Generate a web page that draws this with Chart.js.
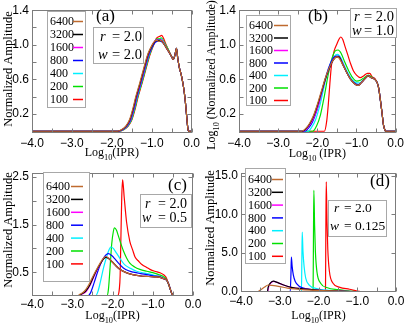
<!DOCTYPE html>
<html>
<head>
<meta charset="utf-8">
<script src="https://cdn.jsdelivr.net/npm/chart.js@4.4.1/dist/chart.umd.min.js"></script>
<style>
  body { margin: 0; background: #fff; }
  canvas { position: absolute; }
</style>
</head>
<body>
<canvas id="panelA" width="203" height="163" style="left:0;top:0"></canvas>
<canvas id="panelB" width="204" height="163" style="left:203px;top:0"></canvas>
<canvas id="panelC" width="203" height="163" style="left:0;top:163px"></canvas>
<canvas id="panelD" width="204" height="163" style="left:203px;top:163px"></canvas>
<script>
// ---- data ----
const sizes = ["6400", "3200", "1600", "800", "400", "200", "100"];
const panelTags = ["(a)", "(b)", "(c)", "(d)"];
const rValues = ["2.0", "2.0", "2.0", "2.0"];
const wValues = ["2.0", "1.0", "0.5", "0.125"];

const xTickLabels = [-4, -3, -2, -1, 0];
const xTickMarks = [-4, -3.5, -3, -2.5, -2, -1.5, -1, -0.5, 0];
const yTicksAB = [0.2, 0.6, 1.0, 1.4];
const yMarksAB = [0.2, 0.4, 0.6, 0.8, 1.0, 1.2, 1.4];
const yTicksC = [0.5, 1.5, 2.5];
const yMarksC = [0.5, 1.0, 1.5, 2.0, 2.5];
const yTicksD = [0, 5, 10, 15];
const yMarksD = [5, 10, 15];

// panel (a)  r = 2.0, w = 2.0
const a6400 = [[-4,0],[-1.86,0],[-1.75,0.02],[-1.65,0.06],[-1.56,0.13],[-1.48,0.25],[-1.4,0.4],[-1.3,0.56],[-1.2,0.73],[-1.1,0.89],[-1.0,0.99],[-0.93,1.04],[-0.87,1.05],[-0.82,1.04],[-0.77,1.05],[-0.71,1.02],[-0.64,0.97],[-0.56,0.91],[-0.5,0.86],[-0.46,0.83],[-0.42,0.88],[-0.38,0.96],[-0.35,0.85],[-0.31,0.74],[-0.25,0.63],[-0.2,0.5],[-0.16,0.35],[-0.13,0.2],[-0.1,0.05],[-0.08,0],[0,0]];
const a3200 = [[-4,0],[-1.85,0],[-1.74,0.02],[-1.64,0.06],[-1.55,0.13],[-1.47,0.25],[-1.39,0.4],[-1.29,0.56],[-1.19,0.73],[-1.09,0.89],[-0.99,0.99],[-0.92,1.04],[-0.87,1.05],[-0.82,1.05],[-0.77,1.05],[-0.71,1.02],[-0.64,0.97],[-0.56,0.91],[-0.5,0.86],[-0.46,0.83],[-0.42,0.88],[-0.38,0.96],[-0.35,0.85],[-0.31,0.74],[-0.25,0.63],[-0.2,0.5],[-0.16,0.35],[-0.13,0.2],[-0.1,0.05],[-0.08,0],[0,0]];
const a1600 = [[-4,0],[-1.84,0],[-1.73,0.02],[-1.63,0.06],[-1.54,0.13],[-1.46,0.25],[-1.38,0.4],[-1.28,0.56],[-1.18,0.73],[-1.08,0.89],[-0.98,1.0],[-0.91,1.05],[-0.86,1.06],[-0.81,1.05],[-0.77,1.06],[-0.71,1.03],[-0.64,0.97],[-0.56,0.91],[-0.5,0.86],[-0.46,0.83],[-0.42,0.88],[-0.38,0.96],[-0.35,0.85],[-0.31,0.74],[-0.25,0.63],[-0.2,0.5],[-0.16,0.35],[-0.13,0.2],[-0.1,0.05],[-0.08,0],[0,0]];
const a800 = [[-4,0],[-1.83,0],[-1.72,0.02],[-1.62,0.06],[-1.53,0.13],[-1.45,0.25],[-1.37,0.4],[-1.27,0.56],[-1.17,0.73],[-1.07,0.89],[-0.97,0.99],[-0.91,1.03],[-0.86,1.04],[-0.81,1.04],[-0.77,1.04],[-0.71,1.02],[-0.64,0.97],[-0.56,0.91],[-0.5,0.86],[-0.46,0.83],[-0.42,0.88],[-0.38,0.96],[-0.35,0.85],[-0.31,0.74],[-0.25,0.63],[-0.2,0.5],[-0.16,0.35],[-0.13,0.2],[-0.1,0.05],[-0.08,0],[0,0]];
const a400 = [[-4,0],[-1.82,0],[-1.71,0.02],[-1.61,0.06],[-1.52,0.13],[-1.44,0.25],[-1.36,0.4],[-1.26,0.56],[-1.16,0.73],[-1.06,0.89],[-0.96,1.0],[-0.9,1.05],[-0.85,1.06],[-0.8,1.06],[-0.76,1.07],[-0.7,1.03],[-0.64,0.98],[-0.56,0.91],[-0.5,0.86],[-0.46,0.83],[-0.42,0.88],[-0.38,0.96],[-0.35,0.85],[-0.31,0.74],[-0.25,0.63],[-0.2,0.5],[-0.16,0.35],[-0.13,0.2],[-0.1,0.05],[-0.08,0],[0,0]];
const a200 = [[-4,0],[-1.81,0],[-1.7,0.02],[-1.6,0.06],[-1.51,0.13],[-1.43,0.25],[-1.35,0.4],[-1.25,0.56],[-1.15,0.73],[-1.05,0.89],[-0.96,1.0],[-0.9,1.06],[-0.85,1.07],[-0.8,1.07],[-0.76,1.08],[-0.7,1.04],[-0.64,0.99],[-0.56,0.92],[-0.5,0.86],[-0.46,0.84],[-0.42,0.88],[-0.38,0.96],[-0.35,0.85],[-0.31,0.74],[-0.25,0.63],[-0.2,0.5],[-0.16,0.35],[-0.13,0.2],[-0.1,0.05],[-0.08,0],[0,0]];
const a100 = [[-4,0],[-1.8,0],[-1.69,0.02],[-1.59,0.06],[-1.5,0.13],[-1.42,0.25],[-1.34,0.4],[-1.24,0.56],[-1.14,0.73],[-1.04,0.89],[-0.95,1.0],[-0.89,1.07],[-0.84,1.09],[-0.79,1.1],[-0.75,1.11],[-0.7,1.07],[-0.64,1.0],[-0.56,0.92],[-0.5,0.86],[-0.46,0.84],[-0.42,0.88],[-0.38,0.96],[-0.35,0.85],[-0.31,0.74],[-0.25,0.63],[-0.2,0.5],[-0.16,0.35],[-0.13,0.2],[-0.1,0.05],[-0.08,0],[0,0]];

// panel (b)  r = 2.0, w = 1.0
const b6400 = [[-4,0],[-2.4,0],[-2.3,0.03],[-2.2,0.09],[-2.1,0.18],[-2.0,0.31],[-1.9,0.46],[-1.8,0.61],[-1.7,0.73],[-1.6,0.82],[-1.5,0.86],[-1.45,0.85],[-1.35,0.77],[-1.25,0.68],[-1.15,0.6],[-1.05,0.55],[-0.96,0.53],[-0.88,0.56],[-0.8,0.6],[-0.7,0.64],[-0.62,0.62],[-0.53,0.6],[-0.47,0.56],[-0.43,0.49],[-0.39,0.36],[-0.35,0.22],[-0.31,0.07],[-0.27,0.01],[-0.24,0],[0,0]];
const b3200 = [[-4,0],[-2.38,0],[-2.29,0.03],[-2.19,0.09],[-2.09,0.18],[-1.99,0.31],[-1.89,0.46],[-1.79,0.61],[-1.69,0.73],[-1.6,0.82],[-1.5,0.86],[-1.45,0.86],[-1.35,0.77],[-1.25,0.68],[-1.15,0.6],[-1.05,0.55],[-0.96,0.53],[-0.88,0.56],[-0.8,0.6],[-0.7,0.64],[-0.62,0.62],[-0.53,0.6],[-0.47,0.56],[-0.43,0.49],[-0.39,0.36],[-0.35,0.22],[-0.31,0.07],[-0.27,0.01],[-0.24,0],[0,0]];
const b1600 = [[-4,0],[-2.36,0],[-2.27,0.03],[-2.17,0.09],[-2.07,0.18],[-1.97,0.31],[-1.88,0.46],[-1.78,0.62],[-1.68,0.74],[-1.59,0.83],[-1.5,0.86],[-1.45,0.86],[-1.35,0.78],[-1.25,0.68],[-1.15,0.6],[-1.05,0.55],[-0.96,0.53],[-0.88,0.56],[-0.8,0.6],[-0.7,0.64],[-0.62,0.62],[-0.53,0.6],[-0.47,0.56],[-0.43,0.49],[-0.39,0.36],[-0.35,0.22],[-0.31,0.07],[-0.27,0.01],[-0.24,0],[0,0]];
const b800 = [[-4,0],[-2.32,0],[-2.22,0.04],[-2.12,0.11],[-2.02,0.23],[-1.92,0.39],[-1.82,0.57],[-1.72,0.72],[-1.62,0.83],[-1.52,0.87],[-1.46,0.87],[-1.36,0.79],[-1.26,0.69],[-1.16,0.61],[-1.06,0.56],[-0.96,0.54],[-0.88,0.56],[-0.8,0.6],[-0.7,0.64],[-0.62,0.62],[-0.53,0.6],[-0.47,0.56],[-0.43,0.49],[-0.39,0.36],[-0.35,0.22],[-0.31,0.07],[-0.27,0.01],[-0.24,0],[0,0]];
const b400 = [[-4,0],[-2.24,0],[-2.14,0.05],[-2.04,0.14],[-1.94,0.29],[-1.84,0.49],[-1.74,0.68],[-1.64,0.81],[-1.54,0.88],[-1.48,0.89],[-1.4,0.85],[-1.3,0.75],[-1.2,0.66],[-1.1,0.59],[-1.0,0.56],[-0.92,0.56],[-0.84,0.59],[-0.76,0.62],[-0.7,0.64],[-0.62,0.62],[-0.53,0.6],[-0.47,0.56],[-0.43,0.49],[-0.39,0.36],[-0.35,0.22],[-0.31,0.07],[-0.27,0.01],[-0.24,0],[0,0]];
const b200 = [[-4,0],[-2.12,0],[-2.02,0.06],[-1.92,0.19],[-1.82,0.41],[-1.72,0.66],[-1.62,0.85],[-1.54,0.93],[-1.47,0.94],[-1.39,0.9],[-1.3,0.8],[-1.2,0.7],[-1.1,0.62],[-1.0,0.58],[-0.9,0.59],[-0.8,0.62],[-0.7,0.65],[-0.62,0.63],[-0.53,0.6],[-0.47,0.56],[-0.43,0.49],[-0.39,0.36],[-0.35,0.22],[-0.31,0.07],[-0.27,0.01],[-0.24,0],[0,0]];
const b100 = [[-4,0],[-1.82,0],[-1.76,0.12],[-1.72,0.31],[-1.68,0.55],[-1.64,0.76],[-1.57,0.93],[-1.5,1.01],[-1.44,1.07],[-1.4,1.09],[-1.35,1.06],[-1.3,0.99],[-1.22,0.88],[-1.15,0.78],[-1.08,0.7],[-1.0,0.65],[-0.9,0.62],[-0.82,0.64],[-0.72,0.67],[-0.66,0.67],[-0.6,0.63],[-0.53,0.61],[-0.47,0.56],[-0.43,0.49],[-0.39,0.36],[-0.35,0.22],[-0.31,0.07],[-0.27,0.01],[-0.24,0],[0,0]];

// panel (c)  r = 2.0, w = 0.5
const c6400 = [[-4,0],[-2.9,0],[-2.8,0.04],[-2.7,0.1],[-2.6,0.22],[-2.5,0.39],[-2.4,0.55],[-2.3,0.7],[-2.22,0.8],[-2.17,0.83],[-2.1,0.8],[-2.02,0.73],[-1.92,0.64],[-1.82,0.56],[-1.66,0.49],[-1.5,0.45],[-1.3,0.42],[-1.1,0.41],[-0.9,0.4],[-0.75,0.37],[-0.65,0.33],[-0.6,0.24],[-0.56,0.13],[-0.52,0.04],[-0.48,0],[0,0]];
const c3200 = [[-4,0],[-2.86,0],[-2.77,0.04],[-2.67,0.1],[-2.57,0.22],[-2.48,0.39],[-2.39,0.55],[-2.3,0.68],[-2.22,0.78],[-2.16,0.81],[-2.09,0.78],[-2.01,0.72],[-1.92,0.64],[-1.82,0.56],[-1.66,0.49],[-1.5,0.45],[-1.3,0.42],[-1.1,0.41],[-0.9,0.4],[-0.75,0.37],[-0.65,0.33],[-0.6,0.24],[-0.56,0.13],[-0.52,0.04],[-0.48,0],[0,0]];
const c1600 = [[-4,0],[-2.84,0],[-2.75,0.04],[-2.65,0.1],[-2.56,0.22],[-2.47,0.39],[-2.38,0.55],[-2.29,0.69],[-2.22,0.79],[-2.16,0.82],[-2.09,0.79],[-2.01,0.72],[-1.92,0.64],[-1.82,0.56],[-1.66,0.49],[-1.5,0.45],[-1.3,0.42],[-1.1,0.41],[-0.9,0.4],[-0.75,0.37],[-0.65,0.33],[-0.6,0.24],[-0.56,0.13],[-0.52,0.04],[-0.48,0],[0,0]];
const c800 = [[-4,0],[-2.62,0],[-2.55,0.06],[-2.46,0.27],[-2.36,0.53],[-2.26,0.74],[-2.17,0.86],[-2.1,0.89],[-2.02,0.85],[-1.94,0.78],[-1.84,0.68],[-1.73,0.59],[-1.6,0.53],[-1.48,0.5],[-1.3,0.47],[-1.15,0.45],[-0.95,0.42],[-0.8,0.4],[-0.75,0.37],[-0.65,0.33],[-0.6,0.24],[-0.56,0.13],[-0.52,0.04],[-0.48,0],[0,0]];
const c400 = [[-4,0],[-2.42,0],[-2.36,0.1],[-2.3,0.3],[-2.22,0.6],[-2.14,0.84],[-2.08,0.98],[-2.04,1.03],[-1.98,1.0],[-1.9,0.9],[-1.8,0.77],[-1.7,0.66],[-1.55,0.58],[-1.4,0.52],[-1.2,0.48],[-1.07,0.46],[-0.9,0.42],[-0.78,0.39],[-0.7,0.36],[-0.65,0.33],[-0.6,0.24],[-0.56,0.13],[-0.52,0.04],[-0.48,0],[0,0]];
const c200 = [[-4,0],[-2.14,0],[-2.1,0.15],[-2.06,0.6],[-2.02,1.09],[-1.98,1.35],[-1.95,1.43],[-1.9,1.38],[-1.86,1.28],[-1.8,1.12],[-1.73,0.95],[-1.65,0.8],[-1.57,0.69],[-1.45,0.61],[-1.32,0.56],[-1.15,0.52],[-1.0,0.49],[-0.85,0.45],[-0.74,0.41],[-0.67,0.36],[-0.61,0.25],[-0.56,0.13],[-0.52,0.04],[-0.48,0],[0,0]];
const c100 = [[-4,0],[-1.88,0],[-1.83,0.15],[-1.81,0.43],[-1.79,1.28],[-1.77,2.08],[-1.75,2.44],[-1.73,2.3],[-1.71,2.08],[-1.68,1.8],[-1.65,1.55],[-1.57,1.15],[-1.5,0.97],[-1.44,0.82],[-1.35,0.73],[-1.27,0.66],[-1.15,0.6],[-1.07,0.56],[-0.95,0.52],[-0.82,0.49],[-0.72,0.44],[-0.66,0.38],[-0.61,0.25],[-0.56,0.13],[-0.52,0.04],[-0.48,0],[0,0]];

// panel (d)  r = 2.0, w = 0.125
const d6400 = [[-4,0],[-3.6,0],[-3.5,0.25],[-3.4,0.6],[-3.3,0.9],[-3.2,0.85],[-3.0,0.7],[-2.8,0.5],[-2.5,0.35],[-2.2,0.25],[-1.9,0.18],[-1.5,0.1],[-1.2,0.05],[-1.0,0.02],[-0.9,0],[0,0]];
const d3200 = [[-4,0],[-3.32,0],[-3.3,0.6],[-3.25,1.1],[-3.17,1.4],[-3.05,1.2],[-2.9,0.9],[-2.7,0.6],[-2.4,0.4],[-2.1,0.28],[-1.8,0.18],[-1.4,0.1],[-1.1,0.05],[-0.9,0],[0,0]];
const d1600 = [[-4,0],[-3.31,0],[-3.29,0.6],[-3.24,1.1],[-3.16,1.38],[-3.04,1.18],[-2.9,0.9],[-2.7,0.6],[-2.4,0.4],[-2.1,0.28],[-1.8,0.18],[-1.4,0.1],[-1.1,0.05],[-0.9,0],[0,0]];
const d800 = [[-4,0],[-2.73,0],[-2.71,2.5],[-2.7,4.5],[-2.68,3.3],[-2.65,2.2],[-2.6,1.35],[-2.5,0.75],[-2.3,0.4],[-1.9,0.18],[-1.3,0.05],[-1.0,0.01],[-0.9,0],[0,0]];
const d400 = [[-4,0],[-2.44,0],[-2.43,4],[-2.42,7.7],[-2.4,5.2],[-2.37,3.2],[-2.33,1.8],[-2.24,0.9],[-2.05,0.45],[-1.7,0.2],[-1.2,0.05],[-0.95,0.01],[-0.9,0],[0,0]];
const d200 = [[-4,0],[-2.14,0],[-2.13,7],[-2.12,13.1],[-2.1,8.5],[-2.08,5.2],[-2.04,2.6],[-1.94,1.1],[-1.77,0.55],[-1.5,0.3],[-1.1,0.08],[-0.92,0.01],[-0.9,0],[0,0]];
const d100 = [[-4,0],[-1.82,0],[-1.81,8],[-1.8,14.2],[-1.78,9],[-1.76,5.5],[-1.72,2.7],[-1.62,1.1],[-1.45,0.6],[-1.2,0.35],[-1.0,0.12],[-0.88,0.02],[-0.85,0],[0,0]];

// ---- styling ----
const colours = ["#bf6a2e", "#000000", "#ff00ff", "#0000ff", "#00f0ff", "#00e000", "#ff0000"];
const SERIF = "'Liberation Serif', 'DejaVu Serif', serif";
const SANS = "'Liberation Sans', Arial, sans-serif";
const FRAME = "#7c7c7c";

function fmt(v) {
    const s = Math.abs(v) < 1e-9 ? "0.0" : v.toFixed(1);
    return s.replace("-", "\u2212");
}

// text with subscript parts, centred on (x, y) baseline
function drawParts(ctx, parts, x, y, size) {
    let total = 0;
    parts.forEach(p => {
        ctx.font = (p.sub ? size * 0.7 : size) + "px " + SERIF;
        p.w = ctx.measureText(p.t).width;
        total += p.w;
    });
    let cx = x - total / 2;
    ctx.textAlign = "left";
    ctx.textBaseline = "alphabetic";
    parts.forEach(p => {
        ctx.font = (p.sub ? size * 0.7 : size) + "px " + SERIF;
        ctx.fillText(p.t, cx, p.sub ? y + size * 0.3 : y);
        cx += p.w;
    });
}

function makeDecor(cfg) {
    return {
        id: "panelDecor",
        afterDraw(chart) {
            const ctx = chart.ctx;
            const area = chart.chartArea;
            const xs = chart.scales.x;
            const ys = chart.scales.y;
            ctx.save();

            // frame + inward ticks
            ctx.strokeStyle = FRAME;
            ctx.lineWidth = 1;
            const L = Math.round(area.left) + 0.5, R = Math.round(area.right) - 0.5;
            const T = Math.round(area.top) + 0.5, B = Math.round(area.bottom) - 0.5;
            ctx.strokeRect(L, T, R - L, B - T);
            ctx.beginPath();
            xTickMarks.forEach(v => {
                const px = Math.round(xs.getPixelForValue(v)) + 0.5;
                ctx.moveTo(px, B); ctx.lineTo(px, B - 4);
                ctx.moveTo(px, T); ctx.lineTo(px, T + 4);
            });
            cfg.yMarks.forEach(v => {
                const py = Math.round(ys.getPixelForValue(v)) + 0.5;
                ctx.moveTo(L, py); ctx.lineTo(L + 4, py);
                ctx.moveTo(R, py); ctx.lineTo(R - 4, py);
            });
            ctx.stroke();

            // legend: label then line sample
            const lg = cfg.legend;
            ctx.fillStyle = "#fff";
            ctx.fillRect(lg.x, lg.y, lg.w, lg.h);
            ctx.strokeStyle = "#a8a8a8";
            ctx.strokeRect(lg.x + 0.5, lg.y + 0.5, lg.w, lg.h);
            ctx.font = "12px " + SERIF;
            ctx.textAlign = "left";
            ctx.textBaseline = "middle";
            chart.data.datasets.forEach((ds, i) => {
                const y = lg.row0 + i * lg.dy;
                ctx.fillStyle = "#000";
                ctx.fillText(ds.label, lg.x + 3, y + 1);
                ctx.strokeStyle = ds.borderColor;
                ctx.lineWidth = 1.5;
                ctx.beginPath();
                ctx.moveTo(lg.x + lg.l1, y + 0.5);
                ctx.lineTo(lg.x + lg.l2, y + 0.5);
                ctx.stroke();
            });

            // panel tag
            ctx.fillStyle = "#000";
            ctx.font = "17px " + SERIF;
            ctx.textBaseline = "middle";
            ctx.fillText(cfg.tag, cfg.tagX, cfg.tagY);

            // parameter box
            const bx = cfg.box;
            ctx.fillStyle = "#fff";
            ctx.fillRect(bx.x, bx.y, bx.w, bx.h);
            ctx.strokeStyle = "#a8a8a8";
            ctx.lineWidth = 1;
            ctx.strokeRect(bx.x + 0.5, bx.y + 0.5, bx.w, bx.h);
            ctx.fillStyle = "#000";
            ctx.textBaseline = "middle";
            [["r", cfg.r, bx.l1, bx.rX], ["w", cfg.w, bx.l2, bx.wX]].forEach(([v, val, y, vx]) => {
                ctx.font = "italic " + bx.size + "px " + SERIF;
                ctx.fillText(v, bx.x + vx, y);
                ctx.font = bx.size + "px " + SERIF;
                ctx.fillText("= " + val, bx.x + bx.eqX, y);
            });

            // axis titles
            ctx.fillStyle = "#000";
            drawParts(ctx, cfg.xTitle, (area.left + area.right) / 2, cfg.xTitleY, 12);
            ctx.translate(cfg.yTitleX, cfg.yTitleY);
            ctx.rotate(-Math.PI / 2);
            drawParts(ctx, cfg.yTitle, 0, 0, cfg.yTitleSize);
            ctx.restore();
        }
    };
}

function makePanel(id, series, cfg) {
    const canvas = document.getElementById(id);
    return new Chart(canvas, {
        type: "line",
        data: {
            datasets: series.map((pts, i) => ({
                label: sizes[i],
                data: pts.map(p => ({ x: p[0], y: p[1] })),
                borderColor: colours[i],
                borderWidth: 1.2,
                pointRadius: 0,
                fill: false,
                cubicInterpolationMode: "monotone"
            }))
        },
        options: {
            responsive: false,
            animation: false,
            devicePixelRatio: 1,
            layout: { padding: { top: cfg.top, right: cfg.right, left: 0, bottom: 0 } },
            plugins: { legend: { display: false }, tooltip: { enabled: false } },
            scales: {
                x: {
                    type: "linear",
                    min: -4,
                    max: 0,
                    grid: { display: false, drawTicks: false },
                    border: { display: false },
                    afterBuildTicks: s => { s.ticks = xTickLabels.map(v => ({ value: v })); },
                    afterFit: s => { s.height = cfg.bottom; },
                    ticks: {
                        autoSkip: false,
                        maxRotation: 0,
                        padding: cfg.xPad,
                        color: "#000",
                        font: { family: SANS, size: 12 },
                        callback: v => fmt(v)
                    }
                },
                y: {
                    type: "linear",
                    min: cfg.yMin,
                    max: cfg.yMax,
                    grid: { display: false, drawTicks: false },
                    border: { display: false },
                    afterBuildTicks: s => { s.ticks = cfg.yTicks.map(v => ({ value: v })); },
                    afterFit: s => { s.width = cfg.left; },
                    ticks: {
                        autoSkip: false,
                        padding: 3,
                        color: "#000",
                        font: { family: SANS, size: 12 },
                        callback: v => fmt(v)
                    }
                }
            }
        },
        plugins: [makeDecor(cfg)]
    });
}

const logIPR = [{ t: "Log" }, { t: "10", sub: true }, { t: "(IPR)" }];
const logIPRsp = [{ t: "Log" }, { t: "10", sub: true }, { t: " (IPR)" }];
const normAmp = [{ t: "Normalized Amplitude" }];
const logNormAmp = [{ t: "Log" }, { t: "10", sub: true }, { t: " (Normalized Amplitude)" }];

makePanel("panelA", [a6400, a3200, a1600, a800, a400, a200, a100], {
    top: 5, right: 10, left: 32, bottom: 30, xPad: 3,
    yMin: -0.02, yMax: 1.4, yTicks: yTicksAB, yMarks: yMarksAB,
    legend: { x: 47, y: 11, w: 38, h: 96, row0: 21, dy: 13, l1: 26, l2: 36 },
    tag: panelTags[0], tagX: 96, tagY: 17,
    box: { x: 93, y: 27, w: 50, h: 36, size: 14.5, rX: 7, wX: 5, eqX: 19, l1: 37, l2: 55 },
    r: rValues[0], w: wValues[0],
    xTitle: logIPR, xTitleY: 156, yTitle: normAmp, yTitleX: 12, yTitleY: 69, yTitleSize: 12.5
});

makePanel("panelB", [b6400, b3200, b1600, b800, b400, b200, b100], {
    top: 5, right: 11, left: 36, bottom: 30, xPad: 3,
    yMin: -0.02, yMax: 1.4, yTicks: yTicksAB, yMarks: yMarksAB,
    legend: { x: 43, y: 15, w: 44, h: 90, row0: 25, dy: 12.5, l1: 28, l2: 42 },
    tag: panelTags[1], tagX: 105, tagY: 17,
    box: { x: 147, y: 8, w: 46, h: 29, size: 14.5, rX: 4, wX: 2, eqX: 14, l1: 17, l2: 31 },
    r: rValues[1], w: wValues[1],
    xTitle: logIPRsp, xTitleY: 157, yTitle: logNormAmp, yTitleX: 12, yTitleY: 75, yTitleSize: 12
});

makePanel("panelC", [c6400, c3200, c1600, c800, c400, c200, c100], {
    top: 3, right: 10, left: 32, bottom: 30, xPad: 1,
    yMin: 0, yMax: 2.58, yTicks: yTicksC, yMarks: yMarksC,
    legend: { x: 43, y: 9, w: 46, h: 109, row0: 23, dy: 12.9, l1: 28, l2: 40 },
    tag: panelTags[2], tagX: 168, tagY: 23,
    box: { x: 140, y: 31, w: 51, h: 33, size: 14, rX: 5, wX: 2, eqX: 18, l1: 41, l2: 55 },
    r: rValues[2], w: wValues[2],
    xTitle: logIPR, xTitleY: 156, yTitle: normAmp, yTitleX: 12, yTitleY: 67, yTitleSize: 12.5
});

makePanel("panelD", [d6400, d3200, d1600, d800, d400, d200, d100], {
    top: 5, right: 11, left: 38, bottom: 34, xPad: 2,
    yMin: 0, yMax: 15.3, yTicks: yTicksD, yMarks: yMarksD,
    legend: { x: 42, y: 5, w: 40, h: 95, row0: 16, dy: 12.8, l1: 27, l2: 38 },
    tag: panelTags[3], tagX: 167, tagY: 19,
    box: { x: 125, y: 37, w: 58, h: 36, size: 13.5, rX: 6, wX: 2, eqX: 16, l1: 45, l2: 63 },
    r: rValues[3], w: wValues[3],
    xTitle: logIPR, xTitleY: 156, yTitle: normAmp, yTitleX: 11, yTitleY: 65, yTitleSize: 12.5
});
</script>
</body>
</html>
